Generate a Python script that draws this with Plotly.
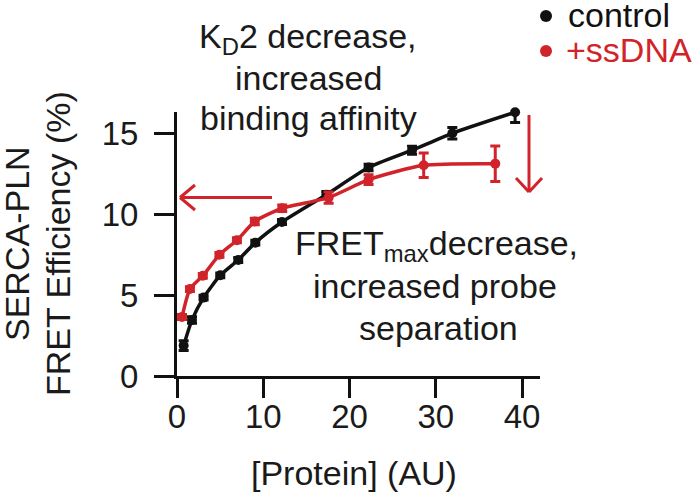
import plotly.graph_objects as go

# ---- data ----
ctrl_x = [0.77, 1.74, 3.08, 5.02, 7.1, 9.08, 12.17, 17.31, 22.21, 27.25, 31.92, 39.2]
ctrl_y = [1.88, 3.47, 4.85, 6.23, 7.18, 8.25, 9.53, 11.22, 12.9, 13.97, 15.02, 16.32]
ctrl_err = [0.3, 0.2, 0.15, 0.15, 0.15, 0.15, 0.15, 0.2, 0.2, 0.25, 0.35, 0.64]

dna_x = [0.58, 1.5, 2.99, 4.92, 6.95, 9.02, 12.2, 17.58, 22.21, 28.6, 36.9]
dna_y = [3.65, 5.38, 6.2, 7.5, 8.4, 9.56, 10.38, 11.04, 12.15, 13.04, 13.14]
dna_err = [0.15, 0.15, 0.15, 0.15, 0.15, 0.2, 0.2, 0.35, 0.3, 0.76, 1.1]

x_ticks = [0, 10, 20, 30, 40]
y_ticks = [0, 5, 10, 15]

BLACK = "#111111"
RED = "#d1242a"
TXT = "#1a1a1a"
FONT = "Liberation Sans, Arial, sans-serif"
FS = 34      # annotation text
TFS = 33     # tick labels

W, H = 700, 503
L, R, T, B = 177, 540, 112, 376


def px(x):
    return (x - L) / (R - L)


def py(y):
    return (B - y) / (B - T)


fig = go.Figure()

for xs, ys, es, col in [(ctrl_x, ctrl_y, ctrl_err, BLACK), (dna_x, dna_y, dna_err, RED)]:
    fig.add_trace(go.Scatter(
        x=xs, y=ys, mode="lines+markers",
        line=dict(color=col, width=3.5, shape="spline", smoothing=0.6),
        marker=dict(color=col, size=10, symbol="circle"),
        error_y=dict(type="data", array=es, visible=True, color=col, thickness=3, width=5),
        cliponaxis=False, showlegend=False,
    ))

x_range_max = (R - L) / 8.625
y_range_max = (B - T) / 16.16

axis_common = dict(showgrid=False, zeroline=False, showline=True, linecolor=BLACK, linewidth=3,
                   ticks="outside", tickwidth=3, tickcolor=BLACK, tickmode="array",
                   showticklabels=True, automargin=False,
                   tickfont=dict(family=FONT, size=TFS, color=TXT))

fig.update_layout(
    width=W, height=H,
    margin=dict(l=L, r=W - R, t=T, b=H - B, pad=0),
    paper_bgcolor="white", plot_bgcolor="white",
    font=dict(family=FONT, size=FS, color=TXT),
    xaxis=dict(range=[0, x_range_max], tickvals=x_ticks, ticktext=[str(v) for v in x_ticks],
               ticklen=19, ticklabelstandoff=-10, **axis_common),
    yaxis=dict(range=[0, y_range_max], tickvals=y_ticks, ticktext=[str(v) for v in y_ticks],
               ticklen=20, ticklabelstandoff=9, **axis_common),
)

shapes = []
# arrows (shaft + open chevron head)
for (x0, y0, x1, y1) in [(272, 197.5, 180, 197.5), (180, 197.5, 195, 185), (180, 197.5, 195, 210),
                         (529, 115, 529, 192), (529, 192, 516, 178), (529, 192, 542, 178)]:
    shapes.append(dict(type="line", xref="paper", yref="paper",
                       x0=px(x0), y0=py(y0), x1=px(x1), y1=py(y1),
                       line=dict(color=RED, width=3)))
# legend dots
for cy, col in [(16, BLACK), (51, RED)]:
    shapes.append(dict(type="circle", xref="paper", yref="paper",
                       xsizemode="pixel", ysizemode="pixel",
                       xanchor=px(546), yanchor=py(cy), x0=-6, x1=6, y0=-6, y1=6,
                       fillcolor=col, line=dict(width=0)))
fig.update_layout(shapes=shapes)

# (text, x_px, y_px_middle, xanchor, color, angle)
lines = [
    ("K<sub>D</sub>2 decrease,", 308, 38, "center", TXT, 0),
    ("increased", 308, 78, "center", TXT, 0),
    ("binding affinity", 308, 118, "center", TXT, 0),
    ("FRET<sub>max</sub>decrease,", 436, 245, "center", TXT, 0),
    ("increased probe", 435, 286, "center", TXT, 0),
    ("separation", 438, 328, "center", TXT, 0),
    ("control", 566, 15, "left", BLACK, 0),
    ("+ssDNA", 564, 50, "left", RED, 0),
    ("SERCA-PLN", 17, 244, "center", TXT, -90),
    ("FRET Efficiency (%)", 58, 244, "center", TXT, -90),
    ("[Protein] (AU)", 354, 473, "center", TXT, 0),
]
ann = []
for text, x, y, xa, col, ang in lines:
    ann.append(dict(text=text, x=px(x), y=py(y), xref="paper", yref="paper",
                    xanchor=xa, yanchor="middle", showarrow=False, textangle=ang,
                    font=dict(family=FONT, size=FS, color=col)))
fig.update_layout(annotations=ann)

fig.write_html("out.html", config={"displayModeBar": False},
               post_script="document.body.style.margin='0px';document.body.style.overflow='hidden';")
